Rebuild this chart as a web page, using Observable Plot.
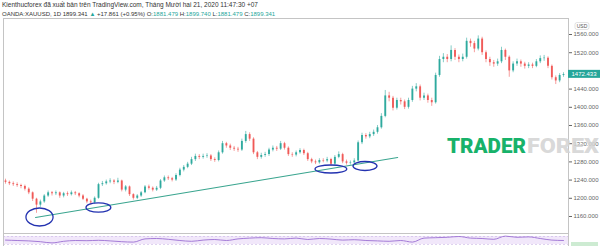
<!DOCTYPE html>
<html>
<head>
<meta charset="utf-8">
<script src="https://cdn.jsdelivr.net/npm/d3@7"></script>
<script src="https://cdn.jsdelivr.net/npm/@observablehq/plot@0.6"></script>
<style>
  html, body { margin: 0; padding: 0; background: #fff; }
  #chart { position: relative; width: 600px; height: 246px; overflow: hidden; }
  #chart svg { display: block; }
</style>
</head>
<body>
<div id="chart"></div>
<script>
// ---- data (XAUUSD daily candles) ----
const opens = [1238,1235,1232,1230,1228,1226,1220,1212,1198,1185,1192,1205,1212,1210,
1212,1205,1210,1208,1212,1210,1205,1198,1192,1190,1200,1230,1232,1236,1238,1235,
1238,1218,1225,1208,1200,1205,1212,1225,1222,1218,1222,1238,1245,1243,1240,
1250,1262,1268,1275,1285,1292,1290,1292,1293,1285,1283,1300,1320,1315,1310,
1308,1306,1325,1340,1330,1300,1290,1294,1296,1306,1310,1308,1320,1310,1296,
1295,1300,1305,1298,1285,1280,1278,1283,1282,1285,1275,1290,1296,1280,1277,
1278,1282,1322,1338,1335,1340,1345,1355,1380,1425,1420,1398,1415,1412,1400,
1415,1440,1445,1420,1425,1415,1410,1470,1505,1510,1505,1525,1510,1505,1510,
1545,1540,1528,1550,1520,1505,1498,1495,1500,1525,1510,1480,1495,1500,1495,
1490,1493,1490,1500,1507,1508,1490,1465,1458,1470];
const closes = [1235,1232,1230,1228,1226,1220,1212,1198,1185,1192,1205,1212,1210,1212,
1205,1210,1208,1212,1210,1205,1198,1192,1190,1200,1230,1232,1236,1238,1235,1238,
1218,1225,1208,1200,1205,1212,1225,1222,1218,1222,1238,1245,1243,1240,1250,
1262,1268,1275,1285,1292,1290,1292,1293,1285,1283,1300,1320,1315,1310,1308,
1306,1325,1340,1330,1300,1290,1294,1296,1306,1310,1308,1320,1310,1296,1295,
1300,1305,1298,1285,1280,1278,1283,1282,1285,1275,1290,1296,1280,1277,1278,
1282,1322,1338,1335,1340,1345,1355,1380,1425,1420,1398,1415,1412,1400,1415,
1440,1445,1420,1425,1415,1410,1470,1505,1510,1505,1525,1510,1505,1510,1545,
1540,1528,1550,1520,1505,1498,1495,1500,1525,1510,1480,1495,1500,1495,1490,
1493,1490,1500,1507,1508,1490,1465,1458,1470,1472];
const highs = [1242,1238,1236,1234,1231,1229,1223,1214,1200,1196,1208,1216,1215,1216,
1214,1213,1214,1216,1215,1212,1208,1200,1196,1203,1233,1237,1240,1243,1241,1244,
1240,1228,1227,1210,1208,1215,1228,1229,1225,1226,1241,1249,1249,1246,1254,
1266,1272,1279,1290,1297,1296,1297,1298,1296,1289,1304,1325,1323,1319,1314,
1312,1330,1347,1344,1333,1303,1299,1301,1310,1315,1314,1325,1323,1313,1300,
1304,1309,1308,1301,1288,1284,1287,1287,1290,1288,1294,1302,1299,1284,1282,
1287,1326,1343,1342,1345,1350,1360,1386,1437,1433,1424,1420,1420,1416,1420,
1446,1452,1449,1431,1429,1420,1475,1512,1518,1516,1535,1529,1515,1517,1552,
1550,1545,1557,1554,1524,1510,1503,1506,1532,1528,1513,1500,1506,1504,1499,
1498,1497,1505,1513,1514,1511,1493,1469,1474,1476];
const lows = [1231,1228,1226,1224,1221,1216,1208,1193,1167,1180,1189,1202,1205,1206,
1200,1201,1204,1205,1206,1201,1195,1188,1185,1187,1198,1226,1229,1232,1230,1232,
1214,1214,1204,1196,1197,1202,1210,1218,1214,1215,1219,1235,1239,1236,1237,
1247,1258,1265,1272,1281,1285,1286,1288,1281,1279,1280,1297,1310,1305,1303,
1301,1303,1321,1325,1296,1285,1286,1290,1292,1302,1303,1305,1306,1292,1290,
1291,1297,1294,1281,1276,1274,1275,1278,1278,1270,1272,1287,1276,1273,1273,
1275,1280,1318,1330,1331,1336,1341,1352,1377,1412,1392,1394,1405,1395,1396,
1411,1434,1414,1415,1409,1402,1407,1466,1498,1498,1500,1503,1498,1500,1506,
1532,1520,1524,1514,1498,1490,1488,1490,1496,1503,1466,1476,1490,1488,1484,
1485,1485,1487,1496,1501,1485,1460,1450,1454,1466];
// 1480.000 is hidden under the last-price tag in the reference
const priceTicks = [1160,1200,1240,1280,1320,1360,1400,1440,1520,1560];
const lastPrice = 1472.433;
// trend line endpoints (candle index, price)
const trendIdx = [7.74, 101.2];
const trendPrice = [1157.8, 1289.6];
// hand-drawn circles: centre index, centre price, half-width (candles), half-height (price)
const circIdx = [8.9, 24.1, 84.1, 92.9];
const circPrice = [1157.8, 1178.7, 1263.3, 1269.9];
const circRx = [3.5, 3.2, 4.1, 3.1];
const circRy = [19.8, 10.3, 8.8, 9.9];
// RSI pane (one value every 3 candles)
const rsi = [52,50,48,44,38,46,50,49,51,48,44,42,58,60,56,50,46,52,55,50,58,62,64,60,58,
62,55,60,57,52,54,50,48,46,50,42,62,64,66,70,62,60,56,72,66,68,60,52,50];
const rsiStep = 3;
const rsiBand = [30, 70];

const UP = "#26a69a", DOWN = "#ef5350";
const N = closes.length;
const candles = d3.range(N).map(i => ({i, o: opens[i], h: highs[i], l: lows[i], c: closes[i]}));
const trend = trendIdx.map((t, k) => ({i: t, p: trendPrice[k]}));
const xDomain = [-0.52, N - 1 + 1.29];
const col = d => d.c >= d.o ? UP : DOWN;

const chart = Plot.plot({
  width: 600, height: 233,
  marginTop: 18, marginBottom: 0, marginLeft: 3, marginRight: 32,
  x: {domain: xDomain, axis: null},
  y: {domain: [1122.6, 1595.2], axis: null},
  style: {background: "white", fontFamily: "'Liberation Sans', Arial, sans-serif", fontSize: "6px"},
  marks: [
    Plot.frame({stroke: "#c4c4c4"}),
    Plot.axisY({anchor: "right", ticks: priceTicks, tickFormat: d3.format(".3f"),
      tickSize: 3, tickPadding: 2, color: "#666", fontSize: 6, label: null}),
    Plot.ruleX(candles, {x: "i", y1: "l", y2: "h", stroke: col, strokeWidth: 0.7, strokeOpacity: 0.8}),
    Plot.ruleX(candles, {x: "i", y1: "o", y2: "c", stroke: col, strokeWidth: 1.9, strokeOpacity: 0.92}),
    Plot.line(trend, {x: "i", y: "p", stroke: "#3aa58f", strokeWidth: 1.1})
  ]
});

const svg = d3.select(chart);
const xs = v => chart.scale("x").apply(v);
const ys = v => chart.scale("y").apply(v);

// circles
circIdx.forEach((ci, k) => {
  svg.append("ellipse")
    .attr("cx", xs(ci)).attr("cy", ys(circPrice[k]))
    .attr("rx", xs(ci + circRx[k]) - xs(ci))
    .attr("ry", ys(circPrice[k] - circRy[k]) - ys(circPrice[k]))
    .attr("fill", "none").attr("stroke", "#2332b0").attr("stroke-width", 1.3);
});

// header texts
svg.append("text").attr("x", 2).attr("y", 7.3).attr("text-anchor", "start")
  .attr("font-family", "'Liberation Sans', Arial, sans-serif").attr("font-size", 6.5)
  .attr("fill", "#333")
  .text("Kienthucforex đã xuất bản trên TradingView.com, Tháng Mười hai 21, 2020 11:47:30 +07");
const h2 = svg.append("text").attr("x", 2).attr("y", 16.3).attr("text-anchor", "start")
  .attr("font-family", "'Liberation Sans', Arial, sans-serif").attr("font-size", 6)
  .attr("fill", "#333");
[["OANDA:XAUUSD, 1D 1899.341 ", "#333"], ["▲", UP], [" +17.861 (+0.95%) O:", "#333"],
 ["1881.479", UP], [" H:", "#333"], ["1899.740", UP], [" L:", "#333"], ["1881.479", UP],
 [" C:", "#333"], ["1899.341", UP]].forEach(([t, f]) => h2.append("tspan").attr("fill", f).text(t));

// USD label
svg.append("rect").attr("x", 575).attr("y", 22.5).attr("width", 14).attr("height", 7)
  .attr("rx", 2).attr("fill", "white").attr("stroke", "#cfcfcf").attr("stroke-width", 0.6);
svg.append("text").attr("x", 582).attr("y", 28).attr("text-anchor", "middle")
  .attr("font-size", 5).attr("fill", "#555").text("USD");

// last price label
const ly = ys(lastPrice);
svg.append("rect").attr("x", 568).attr("y", ly - 4).attr("width", 32).attr("height", 8)
  .attr("fill", UP);
svg.append("text").attr("x", 571.5).attr("y", ly + 2.1).attr("text-anchor", "start")
  .attr("font-size", 6).attr("fill", "white").text(d3.format(".3f")(lastPrice));

// watermark
svg.append("text").attr("x", 447).attr("y", 152.5).attr("text-anchor", "start")
  .attr("font-family", "Roboto, 'Open Sans', sans-serif").attr("font-weight", 900)
  .attr("font-size", 21).attr("fill", "#17b26a")
  .attr("textLength", 79).attr("lengthAdjust", "spacingAndGlyphs").text("TRADER");
svg.append("text").attr("x", 527).attr("y", 152.5).attr("text-anchor", "start")
  .attr("font-family", "Roboto, 'Open Sans', sans-serif").attr("font-weight", 900)
  .attr("font-size", 21).attr("fill", "#d4d4d4").attr("fill-opacity", 0.9)
  .attr("textLength", 72).attr("lengthAdjust", "spacingAndGlyphs").text("FOREX");

document.getElementById("chart").append(chart);

// RSI pane
const rsiData = rsi.map((v, k) => ({i: k * rsiStep, v}));
const pane = Plot.plot({
  width: 600, height: 13,
  marginTop: 0, marginBottom: 0, marginLeft: 3, marginRight: 32,
  x: {domain: xDomain, axis: null},
  y: {domain: [20, 85], axis: null},
  style: {background: "white"},
  marks: [
    Plot.rect([rsiBand], {x1: xDomain[0], x2: xDomain[1], y1: d => d[0], y2: d => d[1], fill: "#f1e7fa"}),
    Plot.ruleY(rsiBand, {stroke: "#c9b3e6", strokeDasharray: "2,2", strokeWidth: 0.6}),
    Plot.line(rsiData, {x: "i", y: "v", stroke: "#9b6fd3", strokeWidth: 0.9, curve: "monotone-x"}),
    Plot.frame({stroke: "#c4c4c4"})
  ]
});
d3.select(pane).append("rect").attr("x", 571).attr("y", 9).attr("width", 27).attr("height", 4)
  .attr("fill", "#cdebd2");
document.getElementById("chart").append(pane);
</script>
</body>
</html>
